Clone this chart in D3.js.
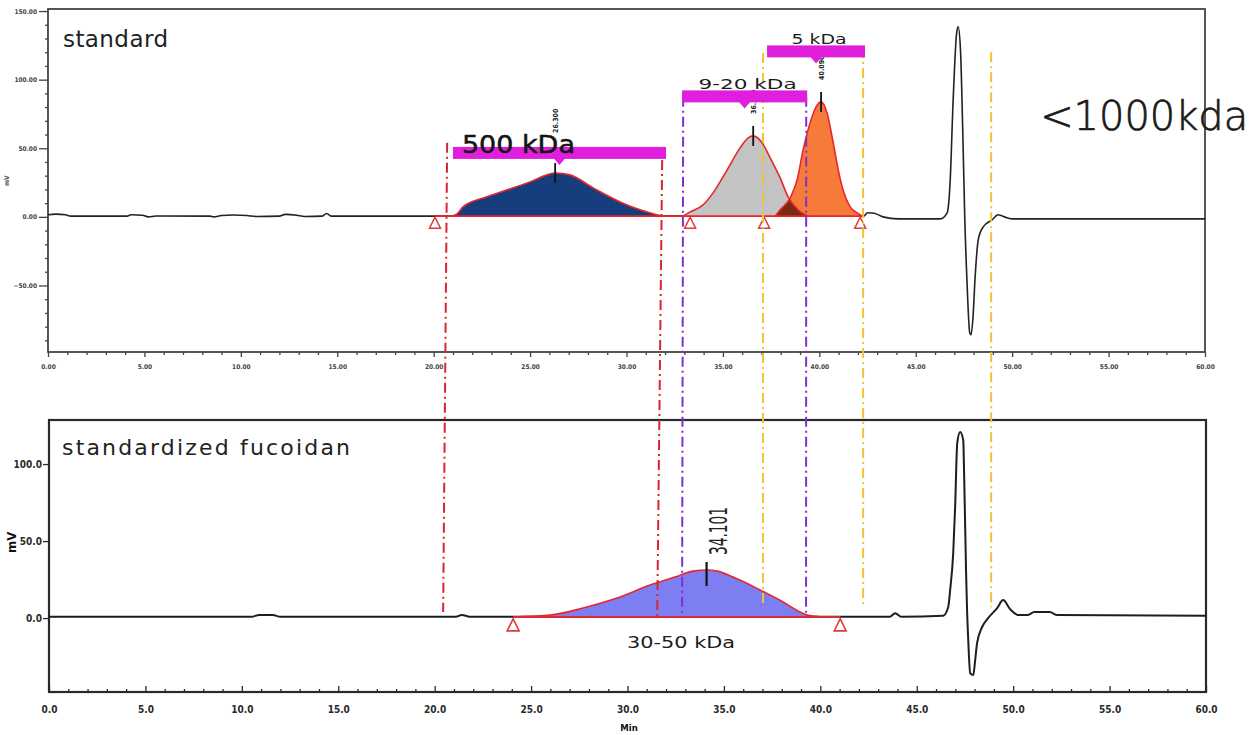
<!DOCTYPE html>
<html>
<head>
<meta charset="utf-8">
<script src="https://cdn.jsdelivr.net/npm/d3@7"></script>
<style>
  html, body { margin: 0; padding: 0; background: #fff; }
  svg { display: block; font-family: "DejaVu Sans", "Liberation Sans", Arial, sans-serif; }
</style>
</head>
<body>
<svg id="chart" width="1258" height="735"></svg>
<script>
// ---- Data: retention time (min), detector response (mV) ----

// Standard mixture: full detector trace
const standardTrace = [
  [0, 1.5], [0.4, 2], [0.9, 1.5], [1.2, 0.5], [4.1, 0.5], [4.3, 1.5], [4.9, 1.2], [5.2, 0],
  [5.6, 0.6], [8.4, 0.5], [8.6, 0], [9.0, 1], [9.6, 1.3], [10.3, 1], [10.8, 0.3], [12.0, 0.5],
  [12.3, 1.8], [12.9, 1.2], [13.3, 0.3], [14.2, 0.5], [14.45, 2.5], [14.7, 0.5], [20.9, 0.5],
  [42.3, 0.5], [42.5, 3], [42.85, 2.6], [43.3, 0], [44.1, -1.5], [46.27, -1.5], [46.63, 2.9],
  [46.78, 24.8], [46.94, 85.3], [47.12, 134], [47.2, 138.5], [47.32, 121.7], [47.44, 61.2],
  [47.54, 0], [47.66, -48], [47.8, -84.5], [47.87, -86], [47.97, -72.9], [48.08, -43.7],
  [48.24, -16.8], [48.5, -7.3], [48.96, -2.2], [49.27, 1.5], [49.74, -0.7], [50.0, -1.5], [60, -1.5]
];

// Standard mixture: integrated peaks
const peak500kDa = [
  [20.9, 0.5], [21.2, 2], [21.52, 7.3], [22.77, 14.6], [23.81, 19.7], [25.0, 25.5], [25.88, 30.6],
  [26.3, 32], [27.07, 30.6], [28.27, 21.1], [29.67, 10.9], [30.71, 5.1], [31.38, 2.2], [31.85, 0.7], [32.0, 0.5]
];
const peak9to20kDa = [
  [32.94, 0.5], [33.3, 3.6], [33.97, 8.7], [34.49, 17.5], [35.22, 34.3], [35.89, 50.3], [36.31, 57.6],
  [36.57, 59], [37.03, 54], [37.45, 43], [37.97, 28.4], [38.38, 14.6], [38.9, 5.1], [39.26, 1.5], [39.5, 0.5]
];
const peak5kDa = [
  [37.71, 0.5], [37.97, 5.1], [38.49, 13.9], [38.85, 27], [39.16, 48.8], [39.52, 68.5], [39.89, 81.6],
  [40.09, 83.8], [40.4, 75.8], [40.72, 54], [40.98, 34.3], [41.23, 19.7], [41.6, 7.3], [41.96, 2.9],
  [42.22, 0.7], [42.3, 0.5]
];
const standardPeakTimes = [26.30, 36.57, 40.09];
const standardMarkers = [20.07, 33.3, 37.14, 42.12];

// Standardized fucoidan: full detector trace
const fucoidanTrace = [
  [0, 0.8], [10.5, 0.8], [10.9, 2], [11.6, 2], [12.0, 0.8], [21.1, 0.8], [21.4, 2], [21.9, 0.8],
  [43.6, 0.8], [43.88, 3.2], [44.2, 0.8], [46.37, 1.5], [46.63, 7], [46.73, 18], [46.89, 42],
  [46.99, 72], [47.1, 113.6], [47.25, 120.8], [47.41, 115.6], [47.46, 91.5], [47.56, 29], [47.61, 5],
  [47.67, -14], [47.77, -35.7], [47.93, -37], [48.03, -27.3], [48.13, -16.2], [48.39, -5.8],
  [48.7, 0], [49.17, 6.5], [49.48, 11.7], [49.84, 5.8], [50.26, 2], [50.73, 2], [51.1, 3.9],
  [51.9, 3.9], [52.28, 2], [60, 1.5]
];
const fucoidanPeak = [
  [24.27, 0.8], [25.99, 1.9], [27.7, 6.5], [29.46, 13], [31.17, 21.4], [32.47, 26.6], [33.4, 30.5],
  [34.101, 31.2], [34.65, 30.5], [35.48, 26.6], [36.88, 18.2], [38.07, 10.4], [38.95, 3.9],
  [39.32, 1.9], [39.99, 0.8]
];
const fucoidanPeakTimes = [34.101];
const fucoidanMarkers = [24.07, 41.03];

// Molecular-weight windows of the standards
const windowLabels = ["500 kDa", "9-20 kDa", "5 kDa"];
const windowStart = [21.0, 32.88, 37.29];
const windowEnd = [32.05, 39.37, 42.37];
const windowLevel = [46.6, 87.8, 120.6];

// Cut-off lines carried from the standard run down to the sample run
const cutoffTop = [20.7, 31.85, 32.94, 39.32, 37.08, 42.27, 48.91];
const cutoffTopLevel = [54, 41.5, 87.5, 87.5, 119.5, 123, 120];
const cutoffBottom = [20.44, 31.54, 32.83, 39.26, 37.03, 42.22, 48.86];
const cutoffBottomLevel = [4, 1, 1, 3, 7, 7, 7];
const cutoffGroup = ["500", "500", "9-20", "9-20", "5", "5", "5"];

// Axis ticks
const timeTicks = d3.range(0, 61, 5);
const minorTimeTicks = d3.range(0, 61, 1).filter(d => d % 5 !== 0);
const topValueTicks = [150, 100, 50, 0, -50];
const topMinorValueTicks = d3.range(-90, 151, 10).filter(d => d % 50 !== 0);
const bottomValueTicks = [100, 50, 0];

// ---- Drawing ----
const svg = d3.select("#chart");

const xTop = d3.scaleLinear().domain([0, 60]).range([48, 1205]);
const yTop = d3.scaleLinear().domain([-98.5, 151.5]).range([352, 9]);
const xBot = d3.scaleLinear().domain([0, 60]).range([49, 1206]);
const yBot = d3.scaleLinear().domain([-48, 128.6]).range([692, 420]);

const cutColors = { "500": "#d9262d", "9-20": "#7e32cc", "5": "#f1c232" };
const narrow = '"Liberation Sans Narrow", "DejaVu Sans Condensed", "Liberation Sans", Arial, sans-serif';

function drawFrame(x, y, o) {
  const g = svg.append("g");
  const [x0, x1] = x.range();
  const [yb, yt] = y.range();
  // minor time ticks
  g.append("g").attr("transform", `translate(0,${yb})`)
    .call(d3.axisBottom(x).tickValues(minorTimeTicks).tickSizeInner(o.xMinor).tickSizeOuter(0).tickFormat(""))
    .call(a => a.select(".domain").remove())
    .attr("color", o.color);
  // major time ticks + labels
  g.append("g").attr("transform", `translate(0,${yb})`)
    .call(d3.axisBottom(x).tickValues(timeTicks).tickSizeInner(o.xMajor).tickSizeOuter(0)
      .tickPadding(o.xPad).tickFormat(d3.format(o.xFmt)))
    .call(a => a.select(".domain").remove())
    .attr("color", o.color)
    .attr("font-family", narrow).attr("font-weight", "bold").attr("font-size", o.xFont);
  // value ticks
  if (o.yMinorTicks) {
    g.append("g").attr("transform", `translate(${x0},0)`)
      .call(d3.axisLeft(y).tickValues(o.yMinorTicks).tickSizeInner(3).tickSizeOuter(0).tickFormat(""))
      .call(a => a.select(".domain").remove())
      .attr("color", o.color);
  }
  g.append("g").attr("transform", `translate(${x0},0)`)
    .call(d3.axisLeft(y).tickValues(o.yTicks).tickSizeInner(o.yMajor).tickSizeOuter(0)
      .tickPadding(o.yPad).tickFormat(d3.format(o.yFmt)))
    .call(a => a.select(".domain").remove())
    .attr("color", o.color)
    .attr("font-family", narrow).attr("font-weight", "bold").attr("font-size", o.yFont);
  g.selectAll(".tick line").attr("stroke-width", 1.3);
  // plot box
  g.append("rect")
    .attr("x", x0).attr("y", yt).attr("width", x1 - x0).attr("height", yb - yt)
    .attr("fill", "none").attr("stroke", o.color).attr("stroke-width", o.box);
  return g;
}

drawFrame(xTop, yTop, {
  color: "#444", box: 1.8, xMinor: 3, xMajor: 5, xPad: 7, xFmt: ".2f", xFont: 6.5,
  yTicks: topValueTicks, yMinorTicks: topMinorValueTicks, yMajor: 9, yPad: 2, yFmt: ".2f", yFont: 6.5
});
drawFrame(xBot, yBot, {
  color: "#2a2a2a", box: 2.2, xMinor: -3, xMajor: -6, xPad: 14, xFmt: ".1f", xFont: 10,
  yTicks: bottomValueTicks, yMinorTicks: null, yMajor: 6, yPad: 1, yFmt: ".1f", yFont: 10
});

// axis titles
svg.append("text").attr("transform", "translate(9,186) rotate(-90)")
  .attr("font-family", narrow).attr("font-size", 6.5).attr("font-weight", "bold").attr("fill", "#555").text("mV");
svg.append("text").attr("transform", "translate(16,553) rotate(-90)")
  .attr("font-family", narrow).attr("font-size", 13).attr("font-weight", "bold").attr("fill", "#111").text("mV");
svg.append("text").attr("x", 629).attr("y", 731).attr("text-anchor", "middle")
  .attr("font-family", narrow).attr("font-size", 9.5).attr("font-weight", "bold").attr("fill", "#111").text("Min");

// panel titles
svg.append("text").attr("x", xTop.range()[0] + 15).attr("y", yTop.range()[1] + 38)
  .attr("font-size", 23).attr("fill", "#222").attr("textLength", 105).text("standard");
svg.append("text").attr("x", xBot.range()[0] + 13).attr("y", yBot.range()[1] + 35)
  .attr("font-size", 22).attr("fill", "#222").attr("textLength", 288).text("standardized  fucoidan");

// ---- upper chromatogram ----
const lineTop = d3.line().x(d => xTop(d[0])).y(d => yTop(d[1])).curve(d3.curveMonotoneX);
const areaTop = d3.area().x(d => xTop(d[0])).y0(yTop(0.5)).y1(d => yTop(d[1])).curve(d3.curveMonotoneX);

svg.append("path").datum(standardTrace).attr("d", lineTop)
  .attr("fill", "none").attr("stroke", "#222").attr("stroke-width", 1.6);

svg.append("defs").append("clipPath").attr("id", "clip5kDa")
  .append("path").datum(peak5kDa).attr("d", areaTop);

svg.append("path").datum(peak500kDa).attr("d", areaTop).attr("fill", "#173e7c");
svg.append("path").datum(peak9to20kDa).attr("d", areaTop).attr("fill", "#c3c3c3");
svg.append("path").datum(peak5kDa).attr("d", areaTop).attr("fill", "#f67b3a");
svg.append("path").datum(peak9to20kDa).attr("d", areaTop).attr("fill", "#7a2a10")
  .attr("clip-path", "url(#clip5kDa)");

[peak500kDa, peak9to20kDa, peak5kDa].forEach(p => {
  svg.append("path").datum(p).attr("d", lineTop)
    .attr("fill", "none").attr("stroke", "#e8262b").attr("stroke-width", 1.6);
});
svg.append("line")
  .attr("x1", xTop(standardMarkers[0])).attr("x2", xTop(standardMarkers[standardMarkers.length - 1]))
  .attr("y1", yTop(0.5)).attr("y2", yTop(0.5)).attr("stroke", "#e8262b").attr("stroke-width", 1.8);

// ---- lower chromatogram ----
const lineBot = d3.line().x(d => xBot(d[0])).y(d => yBot(d[1])).curve(d3.curveMonotoneX);
const areaBot = d3.area().x(d => xBot(d[0])).y0(yBot(0.8)).y1(d => yBot(d[1])).curve(d3.curveMonotoneX);

svg.append("path").datum(fucoidanTrace).attr("d", lineBot)
  .attr("fill", "none").attr("stroke", "#1e1e1e").attr("stroke-width", 2);
svg.append("path").datum(fucoidanPeak).attr("d", areaBot).attr("fill", "#7d7ef2");
svg.append("path").datum(fucoidanPeak).attr("d", lineBot)
  .attr("fill", "none").attr("stroke", "#e8262b").attr("stroke-width", 1.6);
svg.append("line")
  .attr("x1", xBot(fucoidanMarkers[0])).attr("x2", xBot(fucoidanMarkers[1]))
  .attr("y1", yBot(0.8)).attr("y2", yBot(0.8)).attr("stroke", "#e8262b").attr("stroke-width", 1.8);

// integration start/end markers
function triangle(x, y0, h, w) {
  return `M${x},${y0}L${x - w},${y0 + h}L${x + w},${y0 + h}Z`;
}
svg.selectAll(".mkTop").data(standardMarkers).join("path")
  .attr("d", t => triangle(xTop(t), yTop(0.5) + 1, 11, 5.5))
  .attr("fill", "#fff").attr("stroke", "#e33a3a").attr("stroke-width", 1.5);
svg.selectAll(".mkBot").data(fucoidanMarkers).join("path")
  .attr("d", t => triangle(xBot(t), yBot(0.8) + 2, 12, 6))
  .attr("fill", "#fff").attr("stroke", "#e33a3a").attr("stroke-width", 1.6);

// peak apex ticks with retention times
const apexValue = (series, t) => series.find(d => d[0] === t)[1];
const topPeaks = [peak500kDa, peak9to20kDa, peak5kDa];
const topLabelGap = [30, 12, 12];
standardPeakTimes.forEach((t, i) => {
  const x = xTop(t), y = yTop(apexValue(topPeaks[i], t));
  svg.append("line").attr("x1", x).attr("x2", x).attr("y1", y - 10).attr("y2", y + 10)
    .attr("stroke", "#111").attr("stroke-width", 1.8);
  svg.append("text").attr("transform", `translate(${x + 3},${y - 10 - topLabelGap[i]}) rotate(-90)`)
    .attr("font-family", narrow).attr("font-size", 7).attr("font-weight", "bold").attr("fill", "#222")
    .text(d3.format(".3f")(t));
});
fucoidanPeakTimes.forEach(t => {
  const x = xBot(t), y = yBot(apexValue(fucoidanPeak, t));
  svg.append("line").attr("x1", x).attr("x2", x).attr("y1", y - 8).attr("y2", y + 16)
    .attr("stroke", "#111").attr("stroke-width", 2.2);
  svg.append("text").attr("transform", `translate(${x + 20},${y - 15}) rotate(-90)`)
    .attr("font-family", narrow).attr("font-size", 24).attr("fill", "#222")
    .attr("textLength", 48).attr("lengthAdjust", "spacingAndGlyphs")
    .text(d3.format(".3f")(t));
});

// cut-off lines spanning both runs
cutoffTop.forEach((t, i) => {
  svg.append("line")
    .attr("x1", xTop(t)).attr("y1", yTop(cutoffTopLevel[i]))
    .attr("x2", xBot(cutoffBottom[i])).attr("y2", yBot(cutoffBottomLevel[i]))
    .attr("stroke", cutColors[cutoffGroup[i]]).attr("stroke-width", 2)
    .attr("stroke-dasharray", "10,4,2,4");
});

// molecular-weight windows
windowLabels.forEach((label, i) => {
  const xa = xTop(windowStart[i]), xb = xTop(windowEnd[i]), yc = yTop(windowLevel[i]);
  const xm = (xa + xb) / 2;
  svg.append("rect").attr("x", xa).attr("y", yc - 6).attr("width", xb - xa).attr("height", 12)
    .attr("fill", "#e01fdc");
  svg.append("path").attr("d", `M${xm - 6},${yc + 5}L${xm + 6},${yc + 5}L${xm},${yc + 12}Z`)
    .attr("fill", "#e01fdc");
  if (i === 0) {
    svg.append("text").attr("x", xa + 9).attr("y", yc)
      .attr("font-size", 25).attr("fill", "#141414").attr("stroke", "#141414").attr("stroke-width", 0.5)
      .attr("textLength", 113).attr("lengthAdjust", "spacingAndGlyphs").text(label);
  } else {
    const len = i === 1 ? 98 : 55;
    svg.append("text").attr("x", xm + 3 - len / 2).attr("y", yc - 7.5)
      .attr("font-size", 14).attr("fill", "#1c1c1c")
      .attr("textLength", len).attr("lengthAdjust", "spacingAndGlyphs").text(label);
  }
});

// sample molecular-weight label
svg.append("text").attr("x", xBot(32.78) - 54).attr("y", yBot(-19.5))
  .attr("font-size", 16).attr("fill", "#1c1c1c")
  .attr("textLength", 108).attr("lengthAdjust", "spacingAndGlyphs").text("30-50 kDa");

// exclusion-limit note
svg.append("text").attr("x", xTop(51.45)).attr("y", yTop(63.4))
  .attr("font-size", 40).attr("font-weight", 200).attr("fill", "#1a1a1a")
  .attr("stroke", "#1a1a1a").attr("stroke-width", 0.7)
  .attr("textLength", 208).attr("lengthAdjust", "spacingAndGlyphs").text("<1000kda");
</script>
</body>
</html>
